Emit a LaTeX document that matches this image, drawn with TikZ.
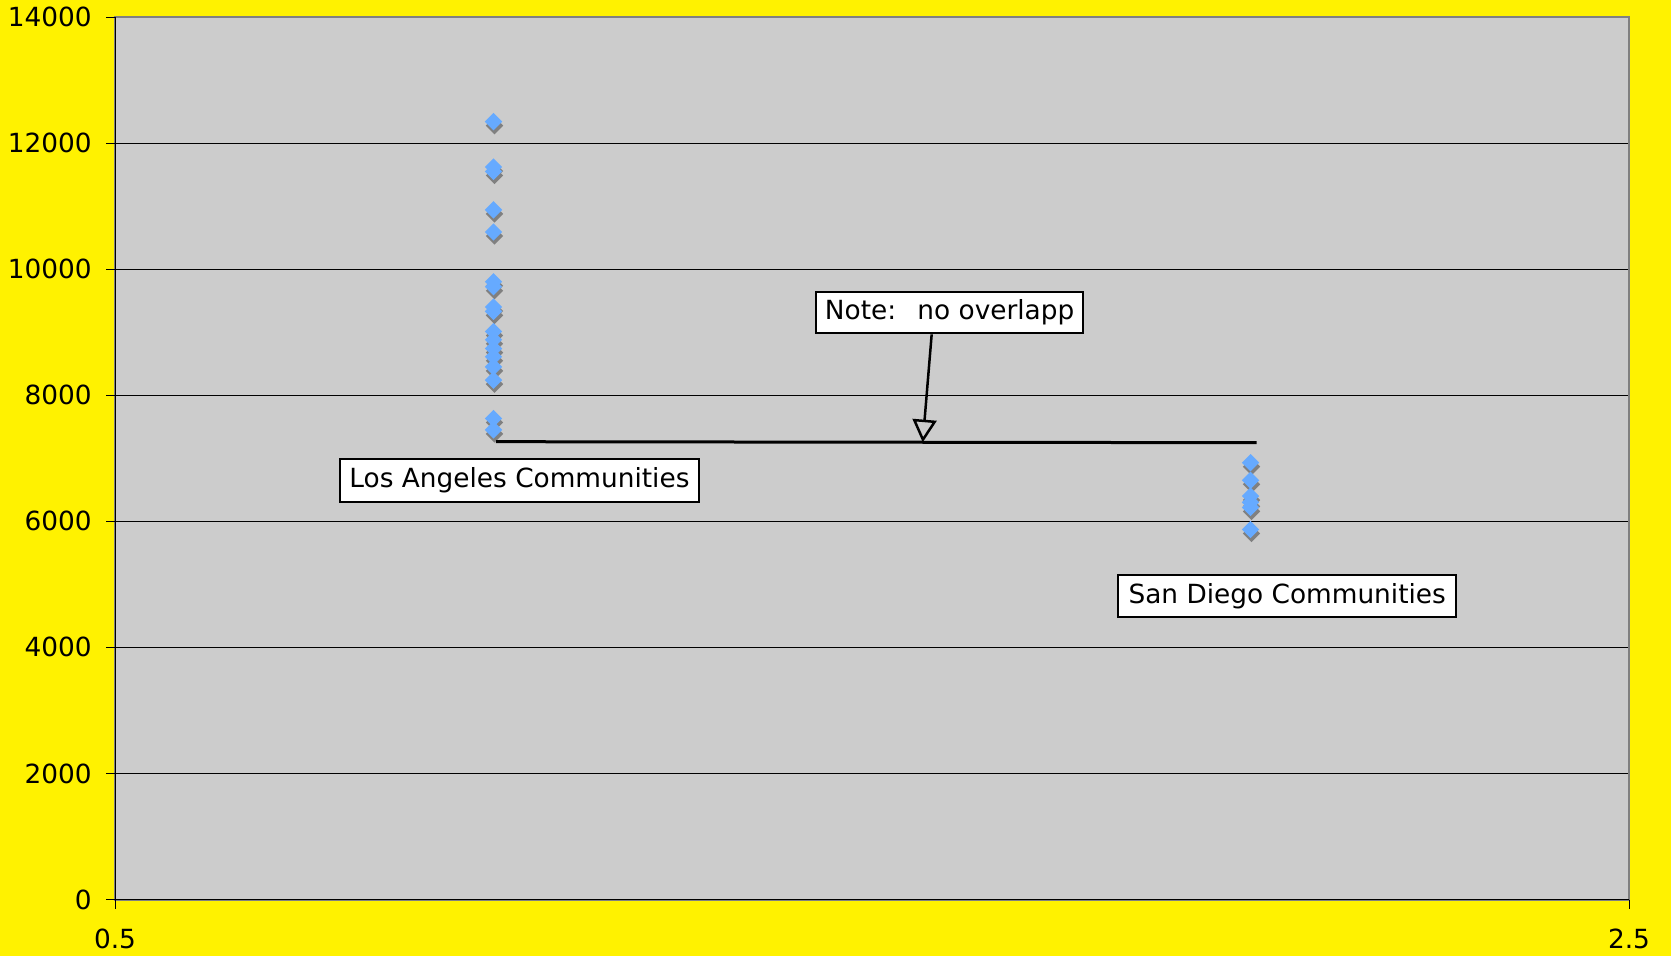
\documentclass[tikz,border=0pt]{standalone}
\usepackage{fontspec}
\setmainfont{DejaVu Sans}
\usetikzlibrary{arrows.meta}

\definecolor{plotgray}{RGB}{204,204,204}
\definecolor{framegray}{RGB}{128,128,128}
\definecolor{markblue}{RGB}{102,170,255}

\begin{document}
\begin{tikzpicture}[font=\fontsize{22.5}{27}\selectfont,
  labelbox/.style={draw=black,line width=0.06cm,fill=white,inner sep=0pt,minimum height=1.27cm},
  grid line/.style={line width=0.03cm}]
% page: 1671 x 956 px, 0.03cm each
\fill[yellow] (0,0) rectangle (50.13,28.68);
\useasboundingbox (0,0) rectangle (50.13,28.68);
\begin{scope}[shift={(-7.905,1.695)},x=22.71cm,y=1.891cm]
\fill[plotgray] (0.5,0) rectangle (2.5,14);
\foreach \g in {2,4,...,12}
  \draw[grid line] (0.5,\g) -- (2.5,\g);
\draw[framegray,line width=0.06cm] (0.5,0) rectangle (2.5,14);
\draw[grid line] (0.5,14) -- (0.5,0) -- (2.5,0);
% y axis, values in thousands
\foreach \g in {0,2,...,14} {
  \pgfmathtruncatemacro\lbl{\g*1000}
  \draw[grid line] (0.5,\g) -- ++(-0.27cm,0);
  \node[anchor=east,inner sep=0pt] (ylab\g) at ([xshift=-0.69cm]0.5,\g) {\lbl};
}
% x axis
\draw[grid line] (0.5,0) -- ++(0,-0.27cm);
\draw[grid line] (2.5,0) -- ++(0,-0.27cm);
\node[inner sep=0pt] (xlab1) at ([yshift=-1.19cm]0.5,0) {0.5};
\node[inner sep=0pt] (xlab2) at ([yshift=-1.19cm]2.5,0) {2.5};
% Los Angeles points
\foreach \v in {12.34,11.62,11.55,10.94,10.59,9.80,9.72,9.40,9.33,9.01,8.88,8.74,8.61,8.45,8.24,7.63,7.45} {
  \fill[framegray] ([xshift=0.03cm,yshift=-0.12cm]1,\v) +(0,0.26cm) -- +(0.26cm,0) -- +(0,-0.26cm) -- +(-0.26cm,0) -- cycle;
  \fill[markblue] (1,\v) +(0,0.26cm) -- +(0.26cm,0) -- +(0,-0.26cm) -- +(-0.26cm,0) -- cycle;
}
% San Diego points
\foreach \v in {6.93,6.65,6.40,6.30,6.22,5.87} {
  \fill[framegray] ([xshift=0.03cm,yshift=-0.12cm]2,\v) +(0,0.26cm) -- +(0.26cm,0) -- +(0,-0.26cm) -- +(-0.26cm,0) -- cycle;
  \fill[markblue] (2,\v) +(0,0.26cm) -- +(0.26cm,0) -- +(0,-0.26cm) -- +(-0.26cm,0) -- cycle;
}
\coordinate (la) at (1.0033,7.263);
\coordinate (sd) at (2.008,7.247);
\draw[line width=0.09cm] (la) -- (sd);
\node[labelbox,minimum width=8.02cm,minimum height=1.25cm] (note) at (1.6026,9.312) {Note:\ \ \,no overlapp};
\coordinate (tip) at (1.567,7.253);
\draw[line width=0.075cm,-{Triangle[open,length=0.68cm,width=0.72cm]}] ([xshift=-0.54cm]note.south) -- (tip);
\node[labelbox,minimum width=10.77cm] (la-label) at (1.0343,6.647) {Los Angeles Communities};
\node[labelbox,minimum width=10.13cm] (sd-label) at (2.0485,4.812) {San Diego Communities};
\end{scope}
\end{tikzpicture}
\end{document}
